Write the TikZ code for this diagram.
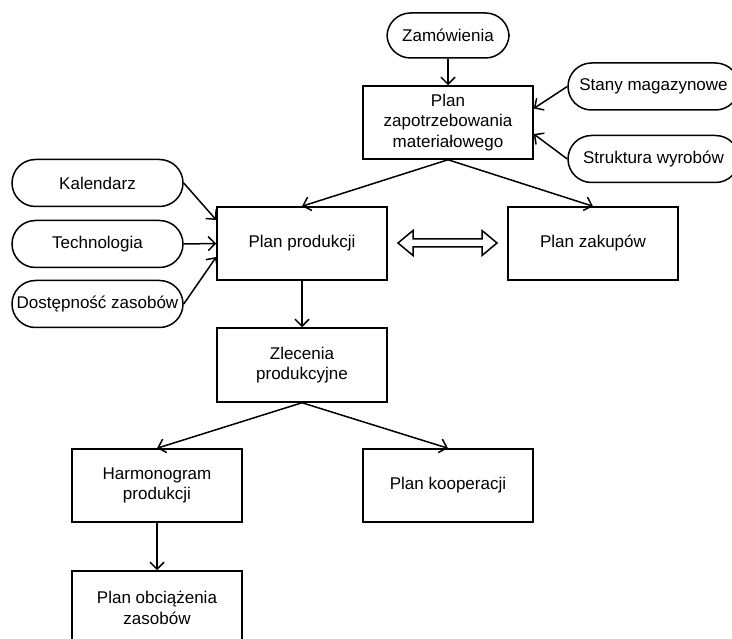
\documentclass[tikz,border=0pt]{standalone}
\usepackage{fontspec}
\setmainfont{Liberation Sans}
\usetikzlibrary{arrows.meta}
\begin{document}
\begin{tikzpicture}[x=1pt,y=-1pt,
  line width=1.5pt,
  base/.style={draw, line width=1.5pt, align=center, inner sep=1pt,
    font=\fontsize{17}{20.5}\selectfont},
  boxnode/.style={base, rectangle, minimum width=170pt, minimum height=73pt},
  pill/.style={base, rounded corners=23.5pt, minimum width=171pt, minimum height=47pt},
  arr/.style={-{Straight Barb[length=7pt,width=14pt]}, line width=1.5pt}]
\useasboundingbox (0,0) rectangle (732,639);
% input pills
\node[pill, minimum width=122pt, minimum height=45pt] (zam) at (448,35.5) {Zamówienia};
\node[pill] (stany) at (653.5,86.5) {Stany magazynowe};
\node[pill] (strukt) at (653.5,159) {Struktura wyrobów};
\node[pill] (kal) at (97.5,183) {Kalendarz};
\node[pill] (tech) at (97.5,244) {Technologia};
\node[pill] (dost) at (97.5,304) {Dostępność zasobów};
% boxes
\node[boxnode] (mrp) at (448,122.5) {Plan\\zapotrzebowania\\materiałowego};
\node[boxnode] (pp) at (302,243.5) {Plan produkcji};
\node[boxnode] (pz) at (593,243.5) {Plan zakupów};
\node[boxnode, minimum height=74pt] (zlec) at (302,365) {Zlecenia\\produkcyjne};
\node[boxnode] (harm) at (157,485.5) {Harmonogram\\produkcji};
\node[boxnode] (koop) at (448,485.5) {Plan kooperacji};
\node[boxnode, minimum height=74pt] (obc) at (157,608) {Plan obciążenia\\zasobów};
% connectors
\draw[arr] (zam.south) -- (mrp.north);
\draw[arr] (stany.west) -- ([yshift=14pt]mrp.east);
\draw[arr] (strukt.west) -- ([yshift=-11.5pt]mrp.east);
\draw[arr] (mrp.south) -- (pp.north);
\draw[arr] (mrp.south) -- (pz.north);
\draw[arr] (kal.east) -- ([yshift=23.5pt]pp.west);
\draw[arr] (tech.east) -- (pp.west);
\draw[arr] (dost.east) -- ([yshift=-13.5pt]pp.west);
\draw[arr] (pp.south) -- (zlec.north);
\draw[arr] (zlec.south) -- (harm.north);
\draw[arr] (zlec.south) -- (koop.north);
\draw[arr] (harm.south) -- (obc.north);
% hollow double arrow between Plan produkcji and Plan zakupów
\draw[line width=1.5pt, line join=miter, shift={(447.5,243)}]
  (-49.5,0) -- (-34.5,-12.5) -- (-34.5,-4) -- (34.5,-4) -- (34.5,-12.5) -- (49.5,0)
  -- (34.5,12.5) -- (34.5,4) -- (-34.5,4) -- (-34.5,12.5) -- cycle;
\end{tikzpicture}
\end{document}
